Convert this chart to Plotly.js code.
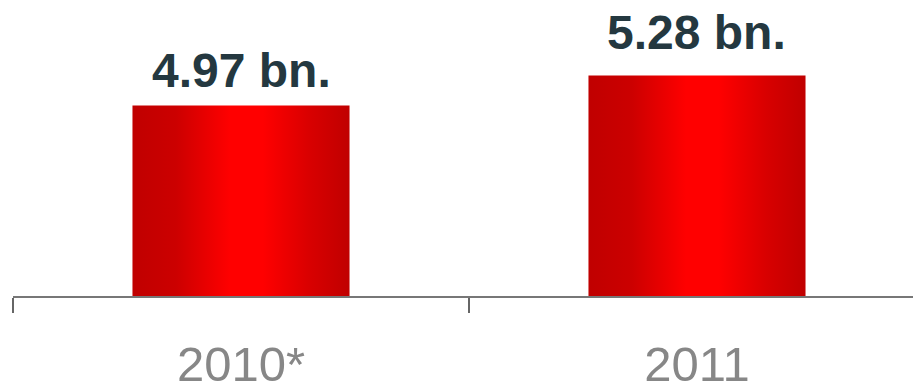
<!DOCTYPE html>
<html>
<head>
<meta charset="utf-8">
<script src="https://cdn.plot.ly/plotly-3.0.1.min.js"></script>
<style>html,body{margin:0;padding:0;background:#fff;}#chart{width:913px;height:391px;}</style>
</head>
<body>
<div id="chart"></div>
<script>
const categories = ['2010*', '2011'];
const values = [4.97, 5.28];
const valueLabels = ['4.97 bn.', '5.28 bn.'];

const labelShifts = [7, 15]; // style: extra lift of each value label above its bar

const trace = {
  type: 'bar',
  x: categories,
  y: values,
  marker: {color: '#e00000', line: {width: 0}},
  hoverinfo: 'none'
};

// annotation x uses the category index (numeric-looking names like '2011' would be read as an index)
const annotations = categories.map(function (c, i) {
  return {
    x: i, y: values[i], xref: 'x', yref: 'y',
    text: '<b>' + valueLabels[i] + '</b>',
    showarrow: false, yanchor: 'bottom', xanchor: 'center',
    yshift: labelShifts[i], borderpad: 0,
    font: {family: 'Liberation Sans, Arial, sans-serif', size: 48, color: '#243840'}
  };
});

const layout = {
  width: 913, height: 391,
  margin: {l: 13, r: 0, t: 0, b: 95},
  paper_bgcolor: '#fff', plot_bgcolor: '#fff',
  bargap: 0.524,
  showlegend: false,
  annotations: annotations,
  xaxis: {
    type: 'category',
    range: [-0.5, 1.4737],
    tickson: 'boundaries',
    ticks: 'outside', ticklen: 15, tickwidth: 1.5, tickcolor: '#666',
    showline: true, linecolor: '#777', linewidth: 1.5,
    showgrid: false, zeroline: false,
    tickfont: {family: 'Liberation Sans, Arial, sans-serif', size: 49, color: '#878787'},
    ticklabelstandoff: 25,
    fixedrange: true
  },
  yaxis: {
    range: [3, 6.06],
    visible: false, showgrid: false, zeroline: false, fixedrange: true
  }
};

Plotly.newPlot('chart', [trace], layout, {staticPlot: true, displayModeBar: false}).then(function (gd) {
  const svg = gd.querySelector('svg.main-svg');
  const ns = 'http://www.w3.org/2000/svg';
  let defs = svg.querySelector('defs');
  if (!defs) { defs = document.createElementNS(ns, 'defs'); svg.insertBefore(defs, svg.firstChild); }
  const grad = document.createElementNS(ns, 'linearGradient');
  grad.setAttribute('id', 'barGrad');
  grad.setAttribute('x1', '0'); grad.setAttribute('y1', '0');
  grad.setAttribute('x2', '1'); grad.setAttribute('y2', '0');
  [[0, '#c00000'], [0.2, '#cc0000'], [0.45, '#ff0000'], [0.6, '#ff0000'], [0.82, '#d80000'], [1, '#c00000']].forEach(function (s) {
    const st = document.createElementNS(ns, 'stop');
    st.setAttribute('offset', s[0]);
    st.setAttribute('stop-color', s[1]);
    grad.appendChild(st);
  });
  defs.appendChild(grad);
  gd.querySelectorAll('.bars .point path').forEach(function (p) {
    p.style.fill = 'url(#barGrad)';
  });
});
</script>
</body>
</html>
